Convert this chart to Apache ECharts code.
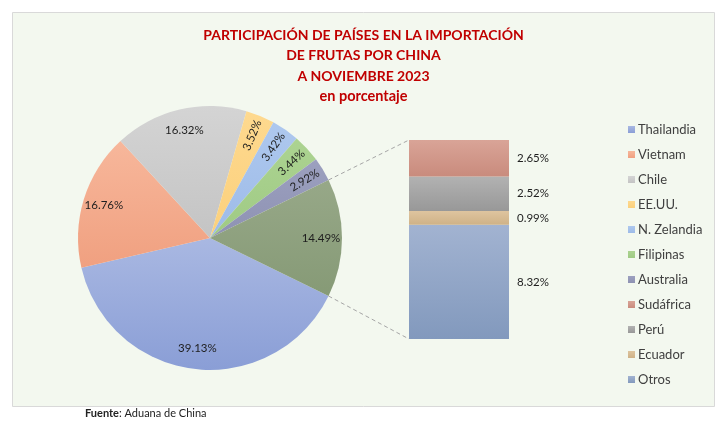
<!DOCTYPE html>
<html lang="es">
<head>
<meta charset="UTF-8">
<title>Participación de países en la importación de frutas por China</title>
<script src="https://cdn.jsdelivr.net/npm/echarts@6/dist/echarts.min.js"></script>
<style>
  html, body { margin: 0; padding: 0; background: #fff; }
  #chart { width: 727px; height: 430px; }
</style>
</head>
<body>
<div id="chart"></div>
<script>
  // pie slices, clockwise from the lower edge of the "rest" slice
  const pieNames = ['Thailandia', 'Vietnam', 'Chile', 'EE.UU.', 'N. Zelandia', 'Filipinas', 'Australia', 'Resto'];
  const pieValues = [39.13, 16.76, 16.32, 3.52, 3.42, 3.44, 2.92, 14.49];
  // breakdown of the "rest" slice, bottom to top
  const barNames = ['Otros', 'Ecuador', 'Perú', 'Sudáfrica'];
  const barValues = [8.32, 0.99, 2.52, 2.65];
  const legendNames = ['Thailandia', 'Vietnam', 'Chile', 'EE.UU.', 'N. Zelandia', 'Filipinas', 'Australia',
    'Sudáfrica', 'Perú', 'Ecuador', 'Otros'];

  const pieColors = [
    ['#a9b8e2', '#8a9ed6'], ['#f7b79b', '#f0a080'], ['#d4d4d4', '#c4c4c4'], ['#fed98f', '#fbd07c'],
    ['#aec8ee', '#9dbbe8'], ['#acd391', '#9fca84'], ['#9ca0bf', '#8e92b3'], ['#97a888', '#869a76']
  ];
  const barColors = [['#a2b3d1', '#8299bd'], ['#dec49f', '#cfb287'], ['#b2b2b2', '#989898'], ['#d9a497', '#c98b7d']];

  const grad = (c) => new echarts.graphic.LinearGradient(0, 0, 0, 1, [
    { offset: 0, color: c[0] }, { offset: 1, color: c[1] }
  ]);

  const CX = 210, CY = 238, R = 132;
  const GRID = { left: 409, top: 140, width: 100, height: 199 };
  const restHalf = pieValues[pieValues.length - 1] / 100 * 180; // degrees
  const barTotal = barValues.reduce((a, b) => a + b, 0);
  const labelFont = { fontFamily: 'Lato', fontSize: 11.5, color: '#1e1e1e' };

  const chart = echarts.init(document.getElementById('chart'));

  const option = {
    animation: false,
    textStyle: { fontFamily: 'Lato' },
    title: {
      left: 'center',
      top: 20,
      itemGap: 0,
      text: 'PARTICIPACIÓN DE PAÍSES EN LA IMPORTACIÓN\nDE FRUTAS POR CHINA\nA NOVIEMBRE 2023',
      subtext: 'en porcentaje',
      textStyle: { fontFamily: 'Lato', fontSize: 14, fontWeight: 'bold', color: '#c00000', lineHeight: 20.5 },
      subtextStyle: { fontFamily: 'Lato', fontSize: 14.5, fontWeight: 'bold', color: '#c00000', lineHeight: 20.5 }
    },
    legend: {
      orient: 'vertical',
      left: 623,
      top: 118,
      itemWidth: 7,
      itemHeight: 7,
      itemGap: 12,
      icon: 'rect',
      data: legendNames,
      textStyle: { fontFamily: 'Lato', fontSize: 13, color: '#404040', padding: [0, 0, 0, -2] }
    },
    grid: GRID,
    xAxis: { type: 'category', data: ['resto'], show: false },
    yAxis: { type: 'value', min: 0, max: barTotal, show: false },
    graphic: [
      {
        id: 'frame', type: 'rect', z: -10, silent: true,
        shape: { x: 12.5, y: 12.5, width: 702, height: 394 },
        style: { fill: '#f3f8ef', stroke: '#d9d9d9', lineWidth: 1 }
      },
      {
        id: 'source', type: 'text', left: 85, top: 408,
        style: {
          text: '{b|Fuente}: Aduana de China',
          fontFamily: 'Lato', fontSize: 11, fill: '#222',
          rich: { b: { fontFamily: 'Lato', fontSize: 11, fontWeight: 'bold', fill: '#222' } }
        }
      }
    ],
    series: [
      {
        type: 'pie',
        center: [CX, CY],
        radius: R,
        startAngle: 360 - restHalf,
        label: { show: false },
        labelLine: { show: false },
        emphasis: { disabled: true },
        data: pieNames.map((n, i) => ({ name: n, value: pieValues[i], itemStyle: { color: grad(pieColors[i]) } }))
      },
      {
        // transparent ring that only places the percentage labels
        type: 'pie',
        center: [CX, CY],
        radius: [84, R],
        startAngle: 360 - restHalf,
        silent: true,
        itemStyle: { color: 'rgba(0,0,0,0)' },
        emphasis: { disabled: true },
        labelLine: { show: false },
        label: {
          show: true,
          position: 'inside',
          ...labelFont,
          formatter: (p) => p.value.toFixed(2) + '%'
        },
        data: pieNames.map((n, i) => ({
          name: 'lbl ' + n,
          value: pieValues[i],
          label: pieValues[i] < 5 ? { rotate: 'radial' } : {}
        }))
      },
      ...barNames.map((n, i) => ({
        type: 'bar',
        name: n,
        stack: 'resto',
        barWidth: '100%',
        emphasis: { disabled: true },
        itemStyle: { color: grad(barColors[i]) },
        label: {
          show: true,
          position: 'right',
          distance: 8,
          ...labelFont,
          formatter: (p) => p.value.toFixed(2) + '%'
        },
        data: [barValues[i]]
      }))
    ]
  };

  chart.setOption(option);

  // dashed connectors from the "rest" slice to the bar
  const a = restHalf * Math.PI / 180;
  const pTop = chart.convertToPixel({ gridIndex: 0 }, [0, barTotal]);
  const pBot = chart.convertToPixel({ gridIndex: 0 }, [0, 0]);
  const barLeft = pTop[0] - GRID.width / 2;
  const dash = { stroke: '#a6a6a6', lineWidth: 1, lineDash: [4, 3] };
  chart.setOption({
    graphic: [
      {
        id: 'linkTop', type: 'line', silent: true,
        shape: { x1: CX + R * Math.cos(a), y1: CY - R * Math.sin(a), x2: barLeft, y2: pTop[1] },
        style: dash
      },
      {
        id: 'linkBottom', type: 'line', silent: true,
        shape: { x1: CX + R * Math.cos(a), y1: CY + R * Math.sin(a), x2: barLeft, y2: pBot[1] },
        style: dash
      }
    ]
  });
</script>
</body>
</html>
